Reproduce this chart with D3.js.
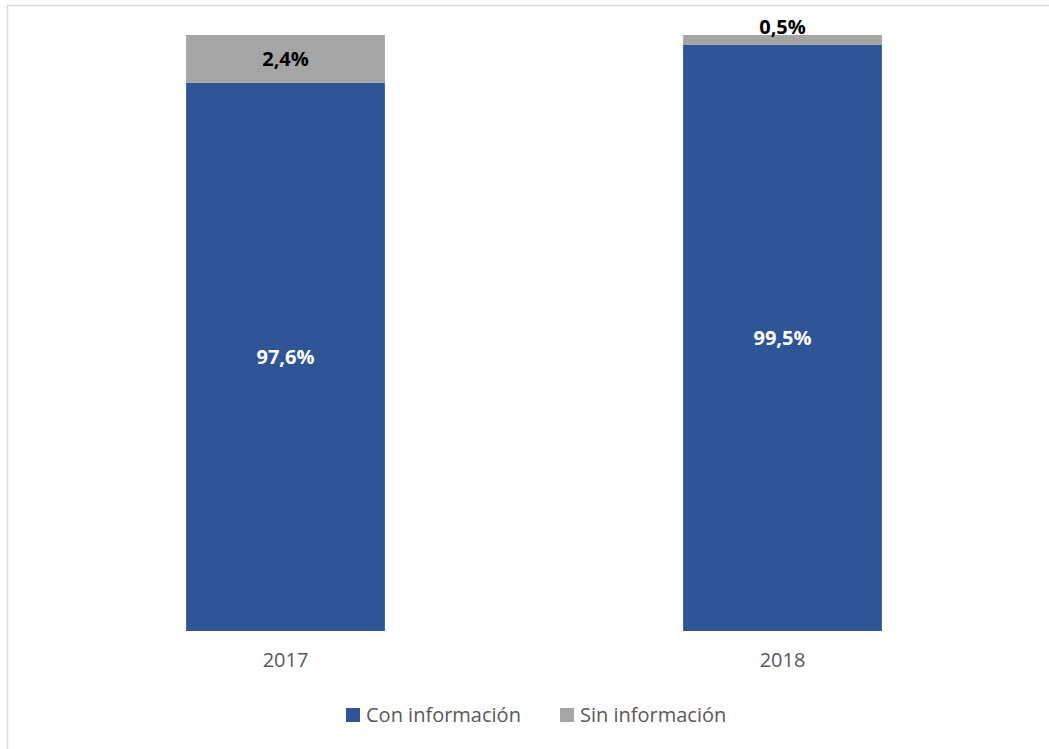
<!DOCTYPE html>
<html>
<head>
<meta charset="utf-8">
<script src="https://cdn.jsdelivr.net/npm/d3@7"></script>
<style>
  body { margin: 0; background: #fff; }
  text { font-family: "Open Sans", "Noto Sans", sans-serif; }
</style>
</head>
<body>
<svg id="chart" width="1049" height="749"></svg>
<script>
var years = ["2017", "2018"]
var conInfo = [97.6, 99.5]
var sinInfo = [2.4, 0.5]
var seriesNames = ["Con información", "Sin información"]
var colors = ["#2F5597", "#A5A5A5"]
var labelColors = ["#ffffff", "#000000"]

var svg = d3.select("#chart")

// frame (right & bottom edges fall outside the picture)
svg.append("rect")
  .attr("x", 7.5).attr("y", 5.5)
  .attr("width", 1060).attr("height", 760)
  .attr("fill", "none")
  .attr("stroke", "#D9D9D9")
  .attr("stroke-width", 1.5)

var x = d3.scaleBand()
  .domain(years)
  .range([37, 1031])
  .paddingInner(0.6)
  .paddingOuter(0.3)

var y = d3.scaleLinear()
  .domain([70, 100])
  .range([631, 35])

var table = years.map(function(yr, i) {
  return {year: yr, con: conInfo[i], sin: sinInfo[i]}
})

var stack = d3.stack().keys(["con", "sin"])
var series = stack(table)

var layer = svg.selectAll(".layer")
  .data(series).enter()
  .append("g")
    .attr("class", "layer")
    .attr("fill", function(d, i) { return colors[i] })

layer.selectAll("rect")
  .data(function(d) { return d }).enter()
  .append("rect")
    .attr("x", function(d) { return x(d.data.year) })
    .attr("width", x.bandwidth())
    .attr("y", function(d) { return y(Math.min(d[1], 100)) })
    .attr("height", function(d) { return y(Math.max(d[0], 70)) - y(Math.min(d[1], 100)) })

// value labels
layer.each(function(s, si) {
  d3.select(this).selectAll("text")
    .data(s).enter()
    .append("text")
      .attr("x", function(d) { return x(d.data.year) + x.bandwidth() / 2 })
      .attr("y", function(d) {
        var top = y(Math.min(d[1], 100)), bot = y(Math.max(d[0], 70))
        if (bot - top < 25) return top - 1
        return (top + bot) / 2
      })
      .attr("dy", function(d) {
        var top = y(Math.min(d[1], 100)), bot = y(Math.max(d[0], 70))
        return (bot - top < 25) ? 0 : "0.35em"
      })
      .attr("text-anchor", "middle")
      .attr("font-size", "20px")
      .attr("font-weight", "bold")
      .attr("fill", labelColors[si])
      .text(function(d) { return d3.format(".1f")(d[1] - d[0]).replace(".", ",") + "%" })
})

// category axis labels
var xAxis = svg.append("g")
  .attr("transform", "translate(0,631)")
  .call(d3.axisBottom(x).tickSize(0).tickPadding(22))
xAxis.select(".domain").remove()
xAxis.selectAll("text")
  .attr("font-size", "20px")
  .attr("font-family", "Open Sans, sans-serif")
  .attr("fill", "#595959")

// legend
var legendX = [346, 560]
var legend = svg.selectAll(".legend")
  .data(seriesNames).enter()
  .append("g")
    .attr("class", "legend")
    .attr("transform", function(d, i) { return "translate(" + legendX[i] + ",708)" })

legend.append("rect")
  .attr("width", 14).attr("height", 14)
  .attr("fill", function(d, i) { return colors[i] })

legend.append("text")
  .attr("x", 20).attr("y", 7)
  .attr("dy", "0.35em")
  .attr("font-size", "20px")
  .attr("fill", "#595959")
  .text(function(d) { return d })
</script>
</body>
</html>
